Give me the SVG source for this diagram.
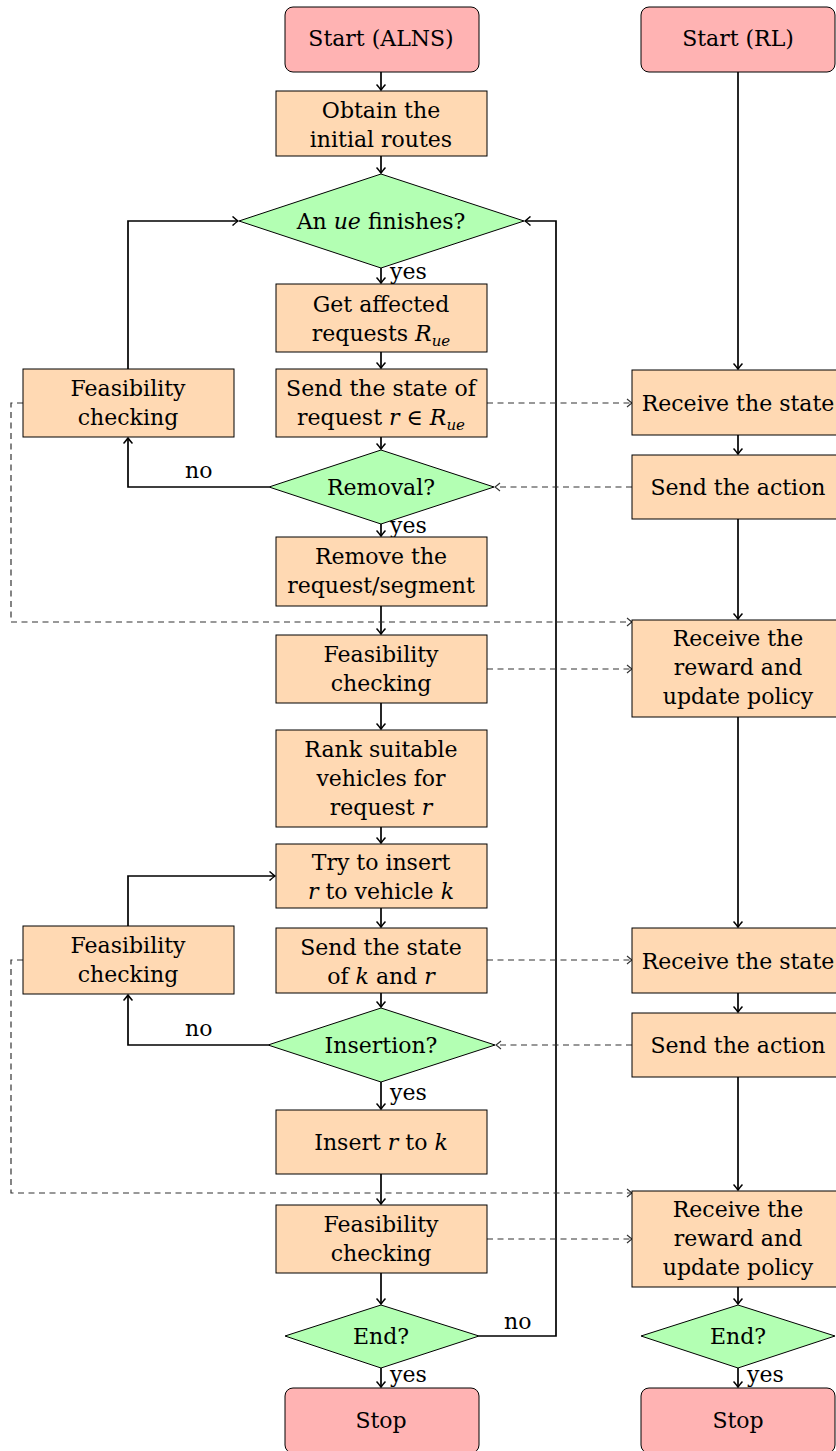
<svg xmlns="http://www.w3.org/2000/svg" width="836" height="1451" viewBox="0 0 836 1451">
<style>
text{font-family:'DejaVu Serif',serif;font-size:22px;fill:#000;text-anchor:middle}
.lbl{text-anchor:start}
.it{font-style:italic}
.sub{font-size:15px;font-style:italic}
.term{fill:#FFB3B3;stroke:#000;stroke-width:1}
.proc{fill:#FFD9B3;stroke:#000;stroke-width:1}
.dec{fill:#B3FFB3;stroke:#000;stroke-width:1}
.ln{fill:none;stroke:#000;stroke-width:1.7}
.dash{fill:none;stroke:#333;stroke-width:1.2;stroke-dasharray:6 4.5}
</style>
<defs>
<marker id="ah" viewBox="-7 -5 8 10" refX="0" refY="0" markerWidth="8" markerHeight="10" markerUnits="userSpaceOnUse" orient="auto">
<path d="M-5.5,-4.5 Q-1.5,-1 0,0 Q-1.5,1 -5.5,4.5" fill="none" stroke="#000" stroke-width="1.5"/>
</marker>
<marker id="ahd" viewBox="-7 -5 8 10" refX="0" refY="0" markerWidth="8" markerHeight="10" markerUnits="userSpaceOnUse" orient="auto">
<path d="M-5,-4 Q-1.5,-1 0,0 Q-1.5,1 -5,4" fill="none" stroke="#333" stroke-width="1.1"/>
</marker>
</defs>

<g id="connectors">
<path class="ln" d="M381,72V90" marker-end="url(#ah)"/>
<path class="ln" d="M381,156V173" marker-end="url(#ah)"/>
<path class="ln" d="M381,268V283" marker-end="url(#ah)"/>
<path class="ln" d="M381,352V368" marker-end="url(#ah)"/>
<path class="ln" d="M381,437V449" marker-end="url(#ah)"/>
<path class="ln" d="M381,524V536" marker-end="url(#ah)"/>
<path class="ln" d="M381,606V634" marker-end="url(#ah)"/>
<path class="ln" d="M381,703V729" marker-end="url(#ah)"/>
<path class="ln" d="M381,827V843" marker-end="url(#ah)"/>
<path class="ln" d="M381,908V927" marker-end="url(#ah)"/>
<path class="ln" d="M381,993V1007" marker-end="url(#ah)"/>
<path class="ln" d="M381,1082V1109" marker-end="url(#ah)"/>
<path class="ln" d="M381,1174V1204" marker-end="url(#ah)"/>
<path class="ln" d="M381,1273V1304" marker-end="url(#ah)"/>
<path class="ln" d="M381,1368V1387" marker-end="url(#ah)"/>
<path class="ln" d="M479,1336H556V221H525" marker-end="url(#ah)"/>
<path class="ln" d="M128,369V221H238" marker-end="url(#ah)"/>
<path class="ln" d="M269,487H128V438" marker-end="url(#ah)"/>
<path class="ln" d="M128,926V876H275" marker-end="url(#ah)"/>
<path class="ln" d="M268,1045H128V995" marker-end="url(#ah)"/>
<path class="ln" d="M738,72V369" marker-end="url(#ah)"/>
<path class="ln" d="M738,435V454" marker-end="url(#ah)"/>
<path class="ln" d="M738,519V619" marker-end="url(#ah)"/>
<path class="ln" d="M738,717V927" marker-end="url(#ah)"/>
<path class="ln" d="M738,993V1012" marker-end="url(#ah)"/>
<path class="ln" d="M738,1077V1190" marker-end="url(#ah)"/>
<path class="ln" d="M738,1287V1304" marker-end="url(#ah)"/>
<path class="ln" d="M738,1368V1387" marker-end="url(#ah)"/>
<path class="dash" d="M487,403H632" marker-end="url(#ahd)"/>
<path class="dash" d="M632,487H495" marker-end="url(#ahd)"/>
<path class="dash" d="M23,403H11V622H632" marker-end="url(#ahd)"/>
<path class="dash" d="M487,669H632" marker-end="url(#ahd)"/>
<path class="dash" d="M487,960H632" marker-end="url(#ahd)"/>
<path class="dash" d="M632,1045H496" marker-end="url(#ahd)"/>
<path class="dash" d="M23,960H11V1193H632" marker-end="url(#ahd)"/>
<path class="dash" d="M487,1239H632" marker-end="url(#ahd)"/>
<text class="lbl" x="390" y="279">yes</text>
<text class="lbl" x="390" y="533">yes</text>
<text class="lbl" x="390" y="1100">yes</text>
<text class="lbl" x="390" y="1382">yes</text>
<text class="lbl" x="747" y="1382">yes</text>
<text class="lbl" x="185" y="478">no</text>
<text class="lbl" x="185" y="1036">no</text>
<text class="lbl" x="504" y="1329">no</text>
</g>

<g id="start-alns"><rect class="term" x="285" y="7" width="194" height="65" rx="8"/><text x="381" y="46">Start (ALNS)</text></g>
<g id="obtain"><rect class="proc" x="276" y="91" width="211" height="65"/><text x="381" y="118">Obtain the</text><text x="381" y="147">initial routes</text></g>
<g id="ue-finishes"><polygon class="dec" points="381,174 524,221 381,268 239,221"/><text x="381" y="229">An <tspan class="it">ue</tspan> finishes?</text></g>
<g id="get-affected"><rect class="proc" x="276" y="284" width="211" height="68"/><text x="381" y="312">Get affected</text><text x="381" y="341">requests <tspan class="it">R</tspan><tspan class="sub" dy="5">ue</tspan></text></g>
<g id="send-state-1"><rect class="proc" x="276" y="369" width="211" height="68"/><text x="381" y="396">Send the state of</text><text x="381" y="425">request <tspan class="it">r</tspan> ∈ <tspan class="it">R</tspan><tspan class="sub" dy="5">ue</tspan></text></g>
<g id="feas-left-1"><rect class="proc" x="23" y="369" width="211" height="68"/><text x="128" y="396">Feasibility</text><text x="128" y="425">checking</text></g>
<g id="removal"><polygon class="dec" points="381,450 494,487 381,524 269,487"/><text x="381" y="495">Removal?</text></g>
<g id="remove"><rect class="proc" x="276" y="537" width="211" height="69"/><text x="381" y="564">Remove the</text><text x="381" y="593">request/segment</text></g>
<g id="feas-1"><rect class="proc" x="276" y="635" width="211" height="68"/><text x="381" y="662">Feasibility</text><text x="381" y="691">checking</text></g>
<g id="rank"><rect class="proc" x="276" y="730" width="211" height="97"/><text x="381" y="757">Rank suitable</text><text x="381" y="786">vehicles for</text><text x="381" y="815">request <tspan class="it">r</tspan></text></g>
<g id="try-insert"><rect class="proc" x="276" y="844" width="211" height="64"/><text x="381" y="870">Try to insert</text><text x="381" y="899"><tspan class="it">r</tspan> to vehicle <tspan class="it">k</tspan></text></g>
<g id="send-state-2"><rect class="proc" x="276" y="928" width="211" height="65"/><text x="381" y="955">Send the state</text><text x="381" y="984">of <tspan class="it">k</tspan> and <tspan class="it">r</tspan></text></g>
<g id="feas-left-2"><rect class="proc" x="23" y="926" width="211" height="68"/><text x="128" y="953">Feasibility</text><text x="128" y="982">checking</text></g>
<g id="insertion"><polygon class="dec" points="381,1008 495,1045 381,1082 268,1045"/><text x="381" y="1053">Insertion?</text></g>
<g id="insert"><rect class="proc" x="276" y="1110" width="211" height="64"/><text x="381" y="1150">Insert <tspan class="it">r</tspan> to <tspan class="it">k</tspan></text></g>
<g id="feas-2"><rect class="proc" x="276" y="1205" width="211" height="68"/><text x="381" y="1232">Feasibility</text><text x="381" y="1261">checking</text></g>
<g id="end-alns"><polygon class="dec" points="381,1305 479,1336 381,1368 285,1336"/><text x="381" y="1344">End?</text></g>
<g id="stop-alns"><rect class="term" x="285" y="1388" width="194" height="65" rx="8"/><text x="381" y="1428">Stop</text></g>

<g id="start-rl"><rect class="term" x="641" y="7" width="194" height="65" rx="8"/><text x="738" y="46">Start (RL)</text></g>
<g id="recv-state-1"><rect class="proc" x="632" y="370" width="211" height="65"/><text x="738" y="411">Receive the state</text></g>
<g id="send-action-1"><rect class="proc" x="632" y="455" width="211" height="64"/><text x="738" y="495">Send the action</text></g>
<g id="recv-reward-1"><rect class="proc" x="632" y="620" width="211" height="97"/><text x="738" y="646">Receive the</text><text x="738" y="675">reward and</text><text x="738" y="704">update policy</text></g>
<g id="recv-state-2"><rect class="proc" x="632" y="928" width="211" height="65"/><text x="738" y="969">Receive the state</text></g>
<g id="send-action-2"><rect class="proc" x="632" y="1013" width="211" height="64"/><text x="738" y="1053">Send the action</text></g>
<g id="recv-reward-2"><rect class="proc" x="632" y="1191" width="211" height="96"/><text x="738" y="1217">Receive the</text><text x="738" y="1246">reward and</text><text x="738" y="1275">update policy</text></g>
<g id="end-rl"><polygon class="dec" points="738,1305 835,1336 738,1368 641,1336"/><text x="738" y="1344">End?</text></g>
<g id="stop-rl"><rect class="term" x="641" y="1388" width="194" height="65" rx="8"/><text x="738" y="1428">Stop</text></g>
</svg>
